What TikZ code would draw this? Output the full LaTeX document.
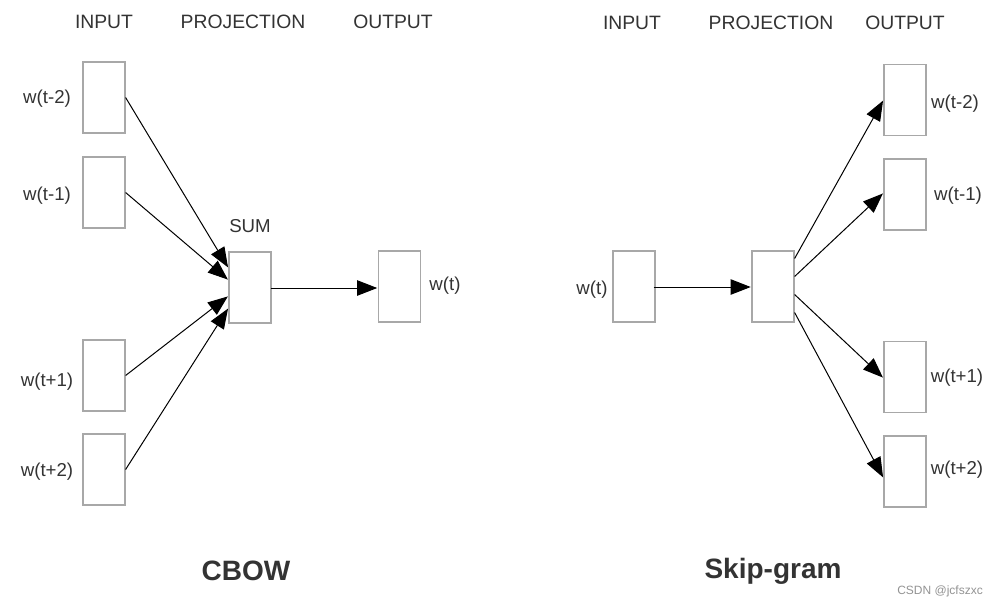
\documentclass[tikz,border=0pt]{standalone}
\usepackage{fontspec}
\setmainfont{Liberation Sans}
\usetikzlibrary{arrows.meta,calc}
\definecolor{txt}{HTML}{333333}
\definecolor{boxc}{HTML}{A8A8A8}
\tikzset{
  vec/.style={draw=boxc, line width=0.9pt, fill=white, minimum width=31.5pt, minimum height=53.25pt, inner sep=0pt},
  hdr/.style={text=txt, font=\fontsize{14.5}{16}\selectfont, inner sep=0pt},
  lbl/.style={text=txt, font=\fontsize{14}{16}\selectfont, inner sep=0pt},
  ttl/.style={text=txt, font=\fontsize{21}{24}\selectfont\bfseries, inner sep=0pt},
  conn/.style={line width=0.75pt, -{Triangle[length=15pt,width=11.5pt]}, shorten >=0.5pt}
}
\begin{document}
\begin{tikzpicture}[x=0.75pt,y=-0.75pt]
\useasboundingbox (0,0) rectangle (998,608);
% headers
\node[hdr] (h1) at (104,22) {INPUT};
\node[hdr] (h2) at (243,22) {PROJECTION};
\node[hdr] (h3) at (393,22) {OUTPUT};
\node[hdr] (h4) at (632,23) {INPUT};
\node[hdr] (h5) at (771,23) {PROJECTION};
\node[hdr] (h6) at (905,23) {OUTPUT};
% CBOW boxes
\node[vec] (a1) at (104,97.5) {};
\node[vec] (a2) at (104,192.5) {};
\node[vec] (a3) at (104,375.5) {};
\node[vec] (a4) at (104,469.5) {};
\node[vec] (sum) at (250,287.5) {};
\node[vec] (cout) at (399.5,286.5) {};
\node[lbl] (la1) at (47,99) {w(t-2)};
\node[lbl] (la2) at (47,196) {w(t-1)};
\node[lbl] (la3) at (47,382) {w(t+1)};
\node[lbl] (la4) at (47,472) {w(t+2)};
\node[lbl] (lsum) at (250,226) {SUM};
\node[lbl] (lcout) at (445,286) {w(t)};
\draw[conn] (a1.east) -- ($(sum.west)+(0,-19.5)$);
\draw[conn] (a2.east) -- ($(sum.west)+(0,-7.5)$);
\draw[conn] (a3.east) -- ($(sum.west)+(0,8.5)$);
\draw[conn] (a4.east) -- ($(sum.west)+(0,20.5)$);
\draw[conn] ($(sum.east)+(-1,0.5)$) -- ($(cout.west)+(0,1.5)$);
% Skip-gram boxes
\node[vec] (sin) at (634,286.5) {};
\node[vec] (proj) at (773,286.5) {};
\node[vec] (b1) at (905,100) {};
\node[vec] (b2) at (905,194.5) {};
\node[vec] (b3) at (905,377) {};
\node[vec] (b4) at (905,471.5) {};
\node[lbl] (lsin) at (592,290) {w(t)};
\node[lbl] (lb1) at (955,104) {w(t-2)};
\node[lbl] (lb2) at (958,196) {w(t-1)};
\node[lbl] (lb3) at (957,378) {w(t+1)};
\node[lbl] (lb4) at (957,470) {w(t+2)};
\draw[conn] ($(sin.east)+(-2,0.5)$) -- ($(proj.west)+(0,0.5)$);
\draw[conn] ($(proj.east)+(0,-28)$) -- (b1.west);
\draw[conn] ($(proj.east)+(0,-10)$) -- ($(b2.west)+(0,-1.5)$);
\draw[conn] ($(proj.east)+(0,8)$) -- ($(b3.west)+(0,1)$);
\draw[conn] ($(proj.east)+(0,26)$) -- ($(b4.west)+(0,6.5)$);
% titles
\node[ttl] (t1) at (246,571) {CBOW};
\node[ttl] (t2) at (773,571) {Skip-gram};
\node[text=gray!85, font=\fontsize{9}{10}\selectfont, inner sep=0pt] (wm) at (940,591) {CSDN @jcfszxc};
\end{tikzpicture}
\end{document}
